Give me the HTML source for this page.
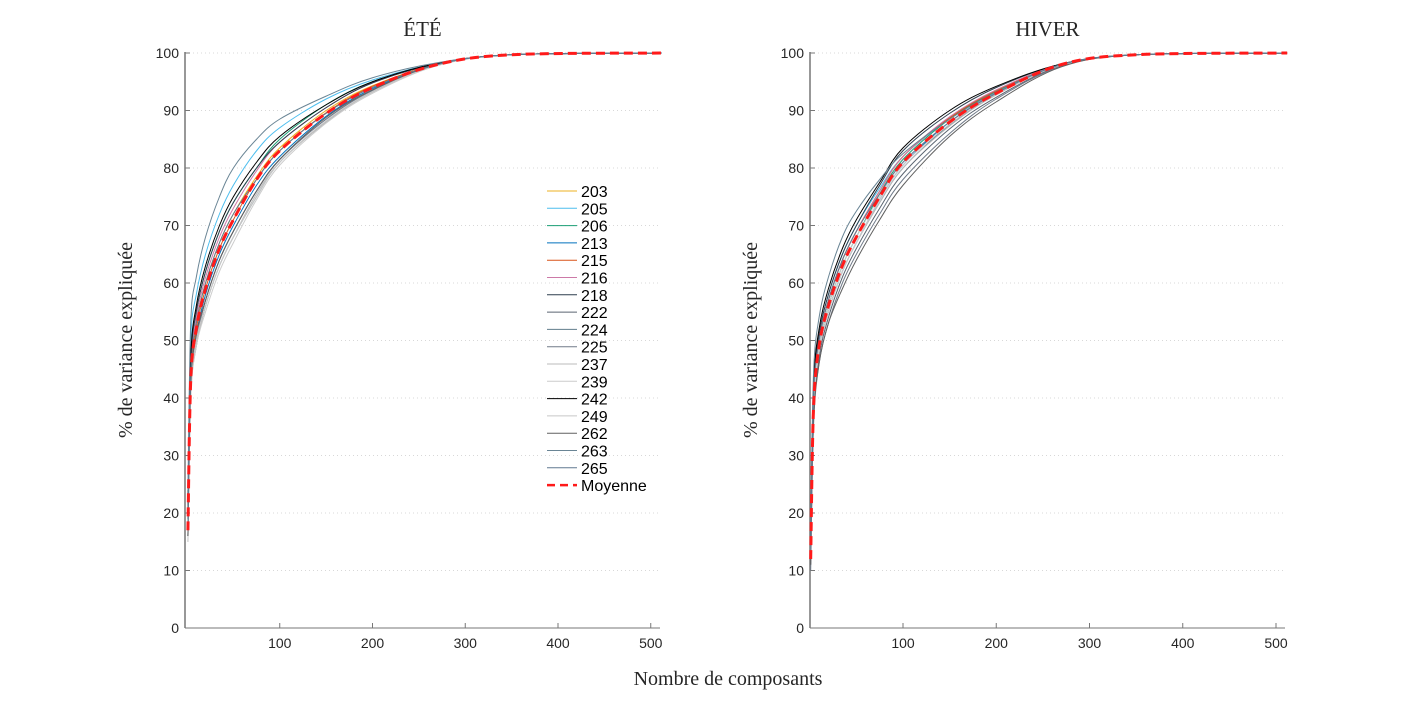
<!DOCTYPE html>
<html><head><meta charset="utf-8"><style>
body{margin:0;background:#fff;}
svg{display:block;font-family:"Liberation Sans",sans-serif;}
.tick{font-size:14px;fill:#262626;}
.serif{font-family:"Liberation Serif",serif;fill:#262626;}
</style></head><body>
<svg id="c" width="1420" height="707" viewBox="0 0 1420 707"></svg>
<script>
const xs=[1,4,10,20,35,50,75,100,150,200,270,350,512];
const names=["203","205","206","213","215","216","218","222","224","225","237","239","242","249","262","263","265"];
const colors=["#EDB120","#4DBEEE","#1A9E74","#0072BD","#D95319","#CC79A7","#2F3F4F","#5A6470","#607D8B","#707A88","#BBBBBB","#CCCCCC","#000000","#C8C8C8","#606060","#6A8595","#607890"];
const yTicks=[0,10,20,30,40,50,60,70,80,90,100];
const xTicks=[100,200,300,400,500];
const eteMean=[17,43,52,59,66,71,78,83,89.5,94,98,99.7,100];
const ete=[
[18,44,53,60,67,72,78.5,83.5,90,94.3,98,99.7,100],
[22,50,58,65,72,77,83,87,92,95.3,98.2,99.7,100],
[19,46,55,62,69,74,80,85,91,95,98.1,99.7,100],
[17,43,51,58,65,70,77,82,89,93.8,98,99.7,100],
[17,43,52,59,66,71,78,83,89.6,94.2,98,99.7,100],
[18,45,54,61,68,73,79.5,84.5,90.5,94.8,98.1,99.7,100],
[19,46,55,62,69,74,80,84.5,90.5,94.8,98.1,99.7,100],
[16,42,50,57,64,69,76,81.5,88.5,93.5,97.9,99.7,100],
[16,41,49,56,63,68,75,81,88,93.3,97.9,99.7,100],
[16,41,50,57,64,69,76,81.5,88.5,93.5,97.9,99.7,100],
[15,40,49,56,63,68,75.5,81,88,93.2,97.9,99.7,100],
[15,40,49,55,62,67,74.5,80.5,87.8,93,97.8,99.7,100],
[20,47,56,63,70,75,81,85.5,91,95,98.2,99.7,100],
[15,41,50,56,63,68,75,81,88.2,93.3,97.9,99.7,100],
[16,42,51,57,64,69,76,81.5,88.8,93.6,98,99.7,100],
[24,53,61,68,75,80,85,88.5,92.5,95.7,98.3,99.7,100],
[17,44,53,60,67,72,78,83,89.5,94,98,99.7,100]];
const hivMean=[12,38,49,56,63,68,75,81,88,93,98,99.7,100];
const hiv=[
[13,39,50,57,64,69,76,82,88.8,93.5,98,99.7,100],
[14,41,51,58,65,70,76.5,82,88.6,93.3,98,99.7,100],
[12,38,49,56,63,68,75.5,81.5,88.5,93.3,98,99.7,100],
[12,37,48,55,62,67,74.5,80.5,88,93,98,99.7,100],
[13,39,50,57,64,69,76,82,88.7,93.5,98,99.7,100],
[13,40,50,57,64,69,76,82,88.9,93.6,98,99.7,100],
[14,41,51,58,65,70,77,83,89.5,94,98.1,99.7,100],
[11,36,47,54,61,66,73,79,86.8,92.3,97.8,99.7,100],
[12,37,48,55,62,67,74,80,87.5,92.8,97.9,99.7,100],
[10,35,46,53,60,65,72,78,86,92,97.7,99.7,100],
[12,37,48,55,62,67,74,80,87.3,92.7,97.9,99.7,100],
[12,38,48,55,62,67,74.5,80.5,87.6,92.9,97.9,99.7,100],
[15,42,52,59,66,71,77.5,83.5,90,94.2,98.1,99.7,100],
[12,38,49,56,63,68,75,81,88,93,98,99.7,100],
[11,36,46,53,59,64,71,77,85.5,91.5,97.6,99.7,100],
[16,44,54,61,68,72.5,78,82.5,88.5,93.2,98,99.7,100],
[13,40,50,57,64,69,75.5,81,88,93,98,99.7,100]];

const NS="http://www.w3.org/2000/svg";
const svg=document.getElementById('c');
function mk(tag,attrs,parent){const e=document.createElementNS(NS,tag);for(const k in attrs)e.setAttribute(k,attrs[k]);(parent||svg).appendChild(e);return e;}
function pathD(pts){
  let d="M"+pts[0][0].toFixed(2)+","+pts[0][1].toFixed(2);
  for(let i=0;i<pts.length-1;i++){
    const p0=pts[Math.max(0,i-1)],p1=pts[i],p2=pts[i+1],p3=pts[Math.min(pts.length-1,i+2)];
    const c1x=p1[0]+(p2[0]-p0[0])/6,c1y=p1[1]+(p2[1]-p0[1])/6;
    const c2x=p2[0]-(p3[0]-p1[0])/6,c2y=p2[1]-(p3[1]-p1[1])/6;
    d+=" C"+c1x.toFixed(2)+","+c1y.toFixed(2)+" "+c2x.toFixed(2)+","+c2y.toFixed(2)+" "+p2[0].toFixed(2)+","+p2[1].toFixed(2);
  }
  return d;
}
function panel(id,title,x0,kx,axL,axR,series,mean,legend){
  const g=mk('g',{});
  
  
  const X=v=>x0+kx*v, Y=v=>628-5.75*v;
  yTicks.forEach(t=>{
    if(t>0){const gl=mk('line',{x1:axL,x2:axR,y1:Y(t),y2:Y(t),stroke:'#d8d8d8','stroke-dasharray':'1,3','stroke-width':1},g);
    }
    const tk=mk('line',{x1:axL,x2:axL+5,y1:Y(t),y2:Y(t),stroke:'#777'},g);
    
    const tl=mk('text',{x:axL-6,y:Y(t)+5,'text-anchor':'end',class:'tick'},g);tl.textContent=t;
    
  });
  xTicks.forEach(t=>{
    const tk=mk('line',{x1:X(t),x2:X(t),y1:628,y2:623,stroke:'#777'},g);
    
    const tl=mk('text',{x:X(t),y:648,'text-anchor':'middle',class:'tick'},g);tl.textContent=t;
    
  });
  const yax=mk('line',{x1:axL,x2:axL,y1:52,y2:628,stroke:'#777','stroke-width':1.5},g);
  
  const xax=mk('line',{x1:axL,x2:axR,y1:628,y2:628,stroke:'#777','stroke-width':1},g);
  
  series.forEach((s,i)=>{
    const pts=xs.map((x,j)=>[X(x),Y(s[j])]);
    const p=mk('path',{d:pathD(pts),fill:'none',stroke:colors[i],'stroke-width':1},g);
    
  });
  const mp=mk('path',{d:pathD(xs.map((x,j)=>[X(x),Y(mean[j])])),fill:'none',stroke:'#ff1a1a','stroke-width':3,'stroke-dasharray':'9,5'},g);
  
  const t=mk('text',{x:(axL+axR)/2,y:36,'text-anchor':'middle',class:'serif','font-size':21},g);t.textContent=title;
  
  const yl=mk('text',{x:0,y:0,transform:'translate('+(axL-53)+',340) rotate(-90)','text-anchor':'middle',class:'serif','font-size':20},g);
  yl.textContent='% de variance expliquée';
  
  if(legend){
    const lg=mk('g',{},g);
    
    names.concat(['Moyenne']).forEach((n,i)=>{
      const y=191+i*17.3;
      const isM=i===names.length;
      const l=mk('line',{x1:547,x2:577,y1:y,y2:y,stroke:isM?'#ff1a1a':colors[i],'stroke-width':isM?2.5:1,'stroke-dasharray':isM?'8,5':'none'},lg);
      
      const tx=mk('text',{x:581,y:y+6,'font-size':16,fill:'#000'},lg);tx.textContent=n;
      
    });
  }
}
panel('ete','ÉTÉ',187,0.9275,185,660,ete,eteMean,true);
panel('hiver','HIVER',809.75,0.9325,810,1285,hiv,hivMean,false);
const xl=mk('text',{x:728,y:685,'text-anchor':'middle',class:'serif','font-size':20});
xl.textContent='Nombre de composants';


</script>
</body></html>
